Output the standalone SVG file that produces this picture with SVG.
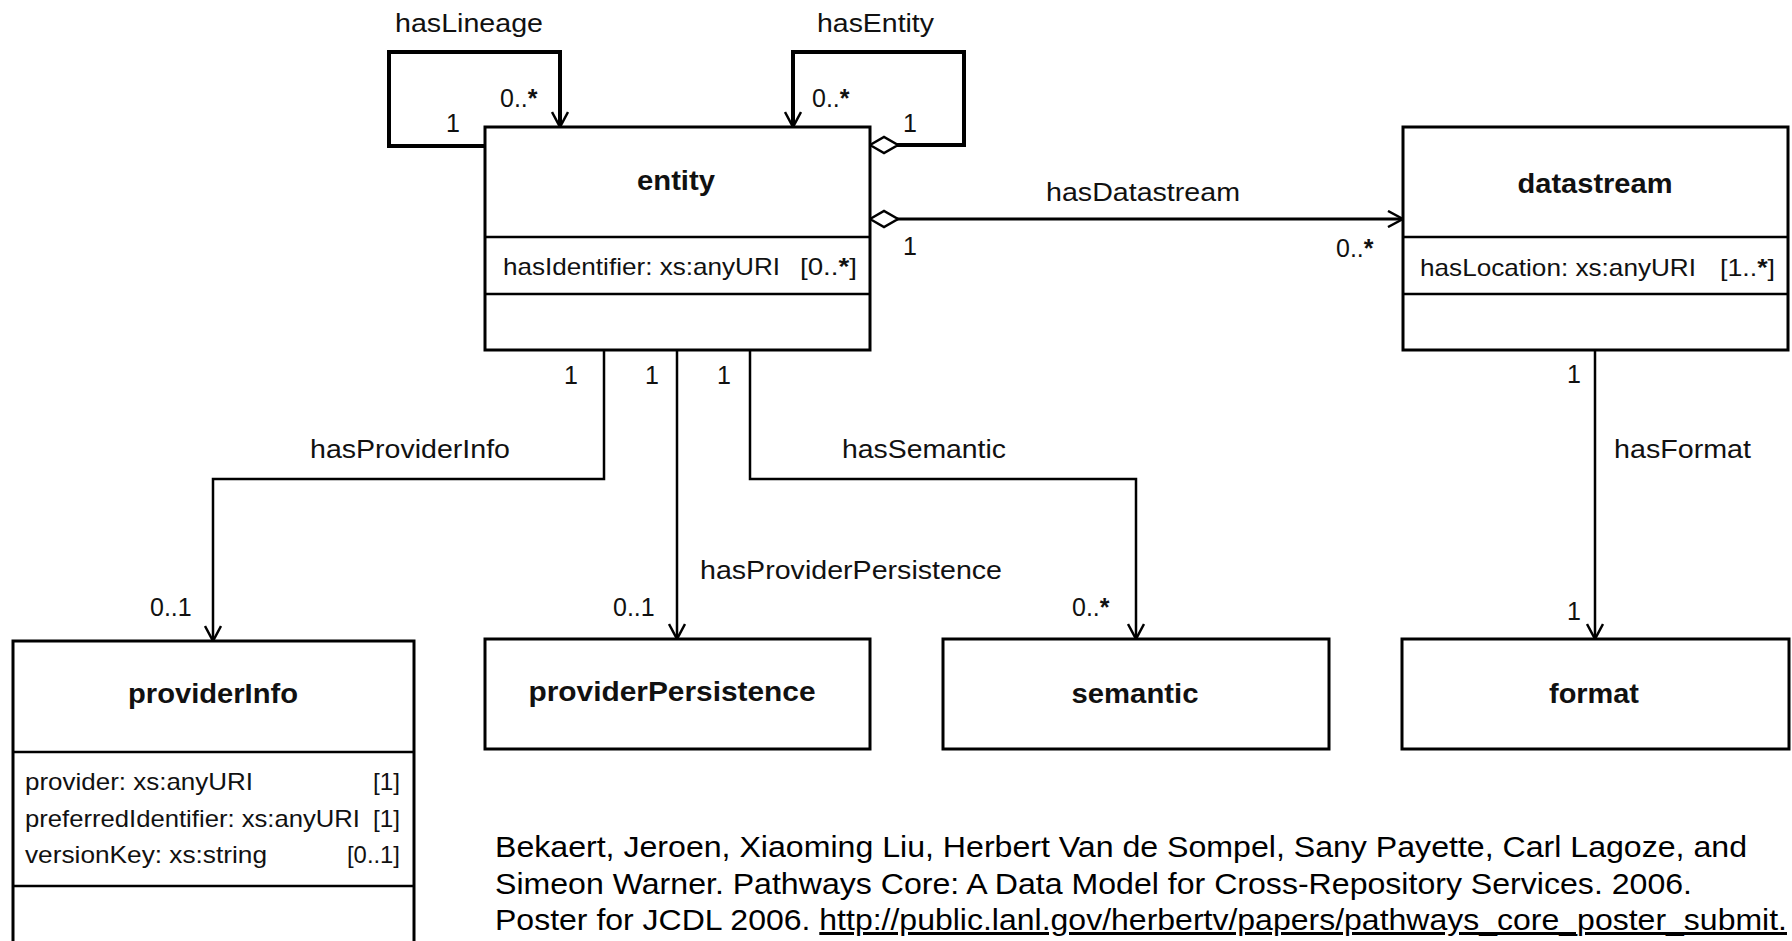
<svg xmlns="http://www.w3.org/2000/svg" width="1792" height="941" viewBox="0 0 1792 941">
<style>
text{font-family:"Liberation Sans",Arial,sans-serif;fill:#111}
.box{fill:#fff;stroke:#000;stroke-width:3}
.div{stroke:#000;stroke-width:2.5}
.title{font-size:28px;font-weight:bold;text-anchor:middle}
.attr{font-size:24px}
.lbl{font-size:25.5px}
.mul{font-size:25px}
.b{font-weight:bold}
.cite{font-size:30px;fill:#000}
.con{fill:none;stroke:#000;stroke-width:2.5}
.loop{stroke-width:4}
.arr{marker-end:url(#arrow)}
.dia{marker-start:url(#diamond)}
</style>
<defs>
<marker id="arrow" markerUnits="userSpaceOnUse" viewBox="0 0 18 18" markerWidth="18" markerHeight="18" refX="16" refY="9" orient="auto">
<path d="M1,1 L16,9 L1,17" fill="none" stroke="#000" stroke-width="2.5"/>
</marker>
<marker id="diamond" markerUnits="userSpaceOnUse" viewBox="0 0 32 20" markerWidth="32" markerHeight="20" refX="1" refY="10" orient="auto">
<path d="M1,10 L15,2 L29,10 L15,18 Z" fill="#fff" stroke="#000" stroke-width="2.5"/>
</marker>
</defs>

<g id="connectors">
<path class="con loop arr" d="M485,146 H389 V52 H560 V127"/>
<path class="con loop dia arr" d="M870,145 H964 V52 H793 V127"/>
<path class="con dia arr" style="stroke-width:3" d="M870,219 H1403"/>
<path class="con arr" d="M604,350 V479 H213 V641"/>
<path class="con arr" d="M677,350 V639"/>
<path class="con arr" d="M750,350 V479 H1136 V639"/>
<path class="con arr" d="M1595,350 V639"/>
<text class="lbl" x="395" y="32" textLength="148" lengthAdjust="spacingAndGlyphs">hasLineage</text>
<text class="lbl" x="817" y="32" textLength="117" lengthAdjust="spacingAndGlyphs">hasEntity</text>
<text class="lbl" x="1046" y="201" textLength="194" lengthAdjust="spacingAndGlyphs">hasDatastream</text>
<text class="lbl" x="310" y="458" textLength="200" lengthAdjust="spacingAndGlyphs">hasProviderInfo</text>
<text class="lbl" x="700" y="579" textLength="302" lengthAdjust="spacingAndGlyphs">hasProviderPersistence</text>
<text class="lbl" x="842" y="458" textLength="164" lengthAdjust="spacingAndGlyphs">hasSemantic</text>
<text class="lbl" x="1614" y="458" textLength="137" lengthAdjust="spacingAndGlyphs">hasFormat</text>
<text class="mul" x="500" y="107">0..<tspan class="b">*</tspan></text>
<text class="mul" x="446" y="132">1</text>
<text class="mul" x="812" y="107">0..<tspan class="b">*</tspan></text>
<text class="mul" x="903" y="132">1</text>
<text class="mul" x="903" y="255">1</text>
<text class="mul" x="1336" y="257">0..<tspan class="b">*</tspan></text>
<text class="mul" x="564" y="384">1</text>
<text class="mul" x="645" y="384">1</text>
<text class="mul" x="717" y="384">1</text>
<text class="mul" x="1567" y="383">1</text>
<text class="mul" x="150" y="616">0..1</text>
<text class="mul" x="613" y="616">0..1</text>
<text class="mul" x="1072" y="616">0..<tspan class="b">*</tspan></text>
<text class="mul" x="1567" y="620">1</text>
</g>

<g id="entity">
<rect class="box" x="485" y="127" width="385" height="223"/>
<line class="div" x1="485" y1="237" x2="870" y2="237"/>
<line class="div" x1="485" y1="294" x2="870" y2="294"/>
<text class="title" x="676" y="190" textLength="78" lengthAdjust="spacingAndGlyphs">entity</text>
<text class="attr" x="503" y="275" textLength="277" lengthAdjust="spacingAndGlyphs">hasIdentifier: xs:anyURI</text>
<text class="attr" x="800" y="275" textLength="57" lengthAdjust="spacingAndGlyphs">[0..<tspan class="b">*</tspan>]</text>
</g>

<g id="datastream">
<rect class="box" x="1403" y="127" width="385" height="223"/>
<line class="div" x1="1403" y1="237" x2="1788" y2="237"/>
<line class="div" x1="1403" y1="294" x2="1788" y2="294"/>
<text class="title" x="1595" y="193" textLength="155" lengthAdjust="spacingAndGlyphs">datastream</text>
<text class="attr" x="1420" y="276" textLength="276" lengthAdjust="spacingAndGlyphs">hasLocation: xs:anyURI</text>
<text class="attr" x="1720" y="276" textLength="55" lengthAdjust="spacingAndGlyphs">[1..<tspan class="b">*</tspan>]</text>
</g>

<g id="providerInfo">
<rect class="box" x="13" y="641" width="401" height="320"/>
<line class="div" x1="13" y1="752" x2="414" y2="752"/>
<line class="div" x1="13" y1="886" x2="414" y2="886"/>
<text class="title" x="213" y="703" textLength="170" lengthAdjust="spacingAndGlyphs">providerInfo</text>
<text class="attr" x="25" y="790" textLength="228" lengthAdjust="spacingAndGlyphs">provider: xs:anyURI</text>
<text class="attr" x="373" y="790" textLength="27" lengthAdjust="spacingAndGlyphs">[1]</text>
<text class="attr" x="25" y="827" textLength="335" lengthAdjust="spacingAndGlyphs">preferredIdentifier: xs:anyURI</text>
<text class="attr" x="373" y="827" textLength="27" lengthAdjust="spacingAndGlyphs">[1]</text>
<text class="attr" x="25" y="863" textLength="242" lengthAdjust="spacingAndGlyphs">versionKey: xs:string</text>
<text class="attr" x="347" y="863" textLength="53" lengthAdjust="spacingAndGlyphs">[0..1]</text>
</g>

<g id="providerPersistence">
<rect class="box" x="485" y="639" width="385" height="110"/>
<text class="title" x="672" y="701" textLength="287" lengthAdjust="spacingAndGlyphs">providerPersistence</text>
</g>

<g id="semantic">
<rect class="box" x="943" y="639" width="386" height="110"/>
<text class="title" x="1135" y="703" textLength="127" lengthAdjust="spacingAndGlyphs">semantic</text>
</g>

<g id="format">
<rect class="box" x="1402" y="639" width="387" height="110"/>
<text class="title" x="1594" y="703" textLength="90" lengthAdjust="spacingAndGlyphs">format</text>
</g>

<g id="citation">
<text class="cite" x="495" y="857" textLength="1252" lengthAdjust="spacingAndGlyphs">Bekaert, Jeroen, Xiaoming Liu, Herbert Van de Sompel, Sany Payette, Carl Lagoze, and</text>
<text class="cite" x="495" y="894" textLength="1197" lengthAdjust="spacingAndGlyphs">Simeon Warner. Pathways Core: A Data Model for Cross-Repository Services. 2006.</text>
<text class="cite" x="495" y="930" textLength="1292" lengthAdjust="spacingAndGlyphs">Poster for JCDL 2006. <tspan text-decoration="underline">http://public.lanl.gov/herbertv/papers/pathways_core_poster_submit.</tspan></text>
</g>
</svg>
